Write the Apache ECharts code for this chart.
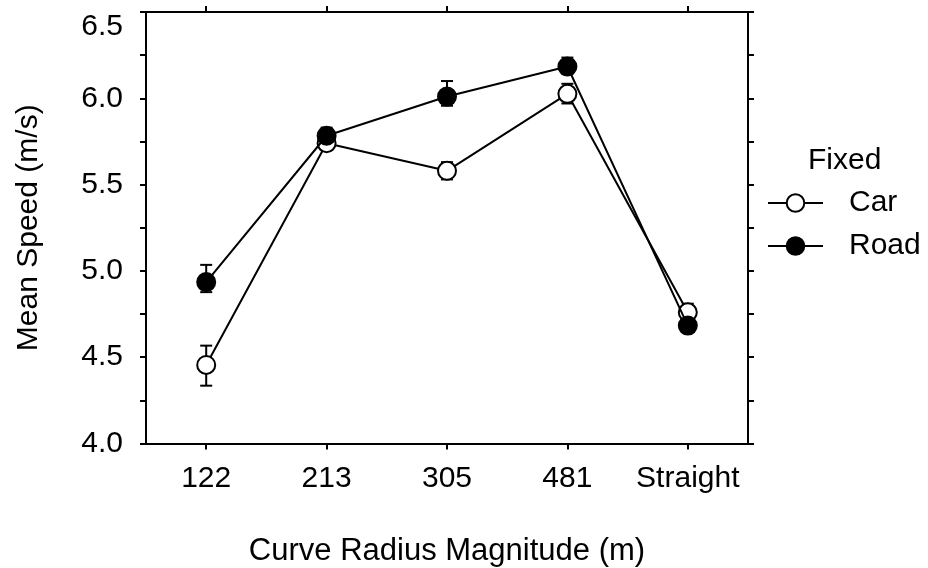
<!DOCTYPE html>
<html><head><meta charset="utf-8">
<script src="https://cdn.jsdelivr.net/npm/echarts@6/dist/echarts.min.js"></script>
<style>html,body{margin:0;padding:0;background:#fff}#c{width:928px;height:568px}</style>
</head><body><div id="c"></div>
<script>
const categories = ['122', '213', '305', '481', 'Straight'];
const carMean  = [4.455, 5.74, 5.58, 6.026, 4.76];
const carLow   = [4.335, 5.70, 5.53, 5.97, 4.72];
const carHigh  = [4.567, 5.78, 5.63, 6.084, 4.81];
const roadMean = [4.935, 5.783, 6.01, 6.184, 4.683];
const roadLow  = [4.877, 5.75, 5.957, 6.14, 4.645];
const roadHigh = [5.035, 5.83, 6.10, 6.236, 4.72];
const yTicks = [4.0, 4.5, 5.0, 5.5, 6.0, 6.5];

const FONT = 'Liberation Sans, Arial, sans-serif';
const FS = 30;
const chart = echarts.init(document.getElementById('c'), null, {renderer: 'canvas'});

function errData(low, high) {
  return categories.map((c, i) => [i, low[i], high[i]]);
}
function errRender(params, api) {
  const x = api.value(0);
  const lo = api.coord([x, api.value(1)]);
  const hi = api.coord([x, api.value(2)]);
  const hw = 6;
  const st = {stroke: '#000', lineWidth: 2};
  return {type: 'group', children: [
    {type: 'line', shape: {x1: lo[0], y1: lo[1], x2: hi[0], y2: hi[1]}, style: st},
    {type: 'line', shape: {x1: lo[0]-hw, y1: lo[1], x2: lo[0]+hw, y2: lo[1]}, style: st},
    {type: 'line', shape: {x1: hi[0]-hw, y1: hi[1], x2: hi[0]+hw, y2: hi[1]}, style: st}
  ]};
}

const axisLine = {show: true, lineStyle: {color: '#000', width: 2}};
const tick = {show: true, inside: false, length: 6, lineStyle: {color: '#000', width: 2}};

chart.setOption({
  animation: false,
  backgroundColor: '#fff',
  textStyle: {fontFamily: FONT},
  title: {text: 'Fixed', left: 803, top: 141, textStyle: {fontFamily: FONT, fontSize: FS, fontWeight: 'normal', color: '#000', lineHeight: 30}},
  legend: {
    orient: 'vertical', left: 762, top: 183, itemWidth: 55, itemHeight: 22, itemGap: 13,
    data: ['Car', 'Road'],
    textStyle: {fontFamily: FONT, fontSize: FS, color: '#000', lineHeight: 30, padding: [0, 0, 0, 21]}
  },
  grid: {left: 146, right: 180, top: 12, bottom: 124.5, containLabel: false, outerBoundsMode: 'none'},
  xAxis: [
    {type: 'category', data: categories, boundaryGap: true, position: 'bottom',
     axisLine: axisLine, axisTick: Object.assign({alignWithLabel: true, interval: 0}, tick),
     axisLabel: {fontFamily: FONT, fontSize: FS, color: '#000', margin: 20, interval: 0, hideOverlap: false},
     name: 'Curve Radius Magnitude (m)', nameLocation: 'middle', nameGap: 92,
     nameTextStyle: {fontFamily: FONT, fontSize: 31, color: '#000'}},
    {type: 'category', data: categories, boundaryGap: true, position: 'top',
     axisLine: axisLine, axisTick: Object.assign({alignWithLabel: true, interval: 0}, tick),
     axisLabel: {show: false}}
  ],
  yAxis: [
    {type: 'value', min: 4, max: 6.5, interval: 0.5, position: 'left',
     axisLine: axisLine, axisTick: tick,
     minorTick: {show: true, splitNumber: 2, length: 6, lineStyle: {color: '#000', width: 2}},
     splitLine: {show: false},
     axisLabel: {fontFamily: FONT, fontSize: FS, color: '#000', margin: 23,
       verticalAlignMaxLabel: 'top',
       formatter: v => yTicks.includes(+v.toFixed(2)) ? v.toFixed(1) : ''},
     name: 'Mean Speed (m/s)', nameLocation: 'middle', nameGap: 102,
     nameTextStyle: {fontFamily: FONT, fontSize: FS, color: '#000'}},
    {type: 'value', min: 4, max: 6.5, interval: 0.5, position: 'right',
     axisLine: axisLine, axisTick: tick,
     minorTick: {show: true, splitNumber: 2, length: 6, lineStyle: {color: '#000', width: 2}},
     splitLine: {show: false}, axisLabel: {show: false}}
  ],
  series: [
    {name: 'CarErr', type: 'custom', renderItem: errRender, data: errData(carLow, carHigh), z: 1, silent: true},
    {name: 'RoadErr', type: 'custom', renderItem: errRender, data: errData(roadLow, roadHigh), z: 1, silent: true},
    {name: 'Car', type: 'line', data: carMean, z: 3, symbol: 'circle', symbolSize: 18,
     lineStyle: {color: '#000', width: 2},
     itemStyle: {color: '#fff', borderColor: '#000', borderWidth: 2}},
    {name: 'Road', type: 'line', data: roadMean, z: 4, symbol: 'circle', symbolSize: 18,
     lineStyle: {color: '#000', width: 2},
     itemStyle: {color: '#000', borderColor: '#000', borderWidth: 2}}
  ]
});
</script></body></html>
